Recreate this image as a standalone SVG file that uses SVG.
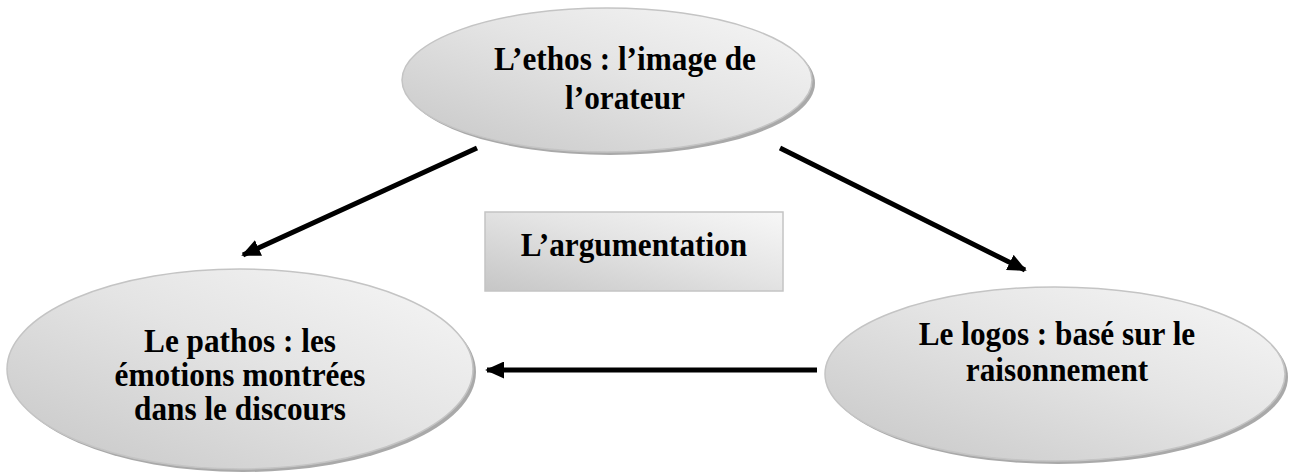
<svg xmlns="http://www.w3.org/2000/svg" width="1292" height="474" viewBox="0 0 1292 474">
<style>
.lbl{font-family:"Liberation Serif","Times New Roman",serif;font-weight:bold;font-size:34px;fill:#000;text-anchor:middle}
.shape{fill:url(#g);stroke:#c4c4c4;stroke-width:1.5}
.shadow{fill:#a9a9a9}
.conn{stroke:#000;stroke-width:5;fill:none;marker-end:url(#ah)}
</style>
<defs>
<linearGradient id="g" x1="0" y1="1" x2="1" y2="0">
<stop offset="0" stop-color="#c6c6c6"/>
<stop offset="0.55" stop-color="#e4e4e4"/>
<stop offset="1" stop-color="#f7f7f7"/>
</linearGradient>
<marker id="ah" viewBox="0 0 10 9" refX="9" refY="4.5" markerWidth="3.8" markerHeight="3.4" orient="auto" markerUnits="strokeWidth">
<path d="M0,0 L10,4.5 L0,9 Z" fill="#000"/>
</marker>
</defs>
<rect width="1292" height="474" fill="#fff"/>
<g id="ethos">
<ellipse class="shadow" cx="610" cy="83" rx="205" ry="72"/>
<ellipse class="shape" cx="607" cy="80" rx="205" ry="72"/>
<g transform="translate(625,0) scale(0.92,1)">
<text class="lbl" x="0" y="70">L’ethos : l’image de</text>
<text class="lbl" x="0" y="109">l’orateur</text>
</g>
</g>
<g id="pathos">
<ellipse class="shadow" cx="243" cy="372" rx="233" ry="100"/>
<ellipse class="shape" cx="240" cy="369" rx="233" ry="100"/>
<g transform="translate(240,0) scale(0.92,1)">
<text class="lbl" x="0" y="352">Le pathos : les</text>
<text class="lbl" x="0" y="386">émotions montrées</text>
<text class="lbl" x="0" y="420">dans le discours</text>
</g>
</g>
<g id="logos">
<ellipse class="shadow" cx="1058" cy="377" rx="230" ry="87"/>
<ellipse class="shape" cx="1055" cy="374" rx="230" ry="87"/>
<g transform="translate(1057,0) scale(0.92,1)">
<text class="lbl" x="0" y="345">Le logos : basé sur le</text>
<text class="lbl" x="0" y="381">raisonnement</text>
</g>
</g>
<g id="argumentation">
<rect class="shape" x="485" y="212" width="298" height="79"/>
<g transform="translate(634,0) scale(0.92,1)">
<text class="lbl" x="0" y="256">L’argumentation</text>
</g>
</g>
<g id="connectors">
<line class="conn" x1="477" y1="148" x2="243" y2="255"/>
<line class="conn" x1="780" y1="148" x2="1025" y2="270"/>
<line class="conn" x1="817" y1="370" x2="487" y2="370"/>
</g>
</svg>
